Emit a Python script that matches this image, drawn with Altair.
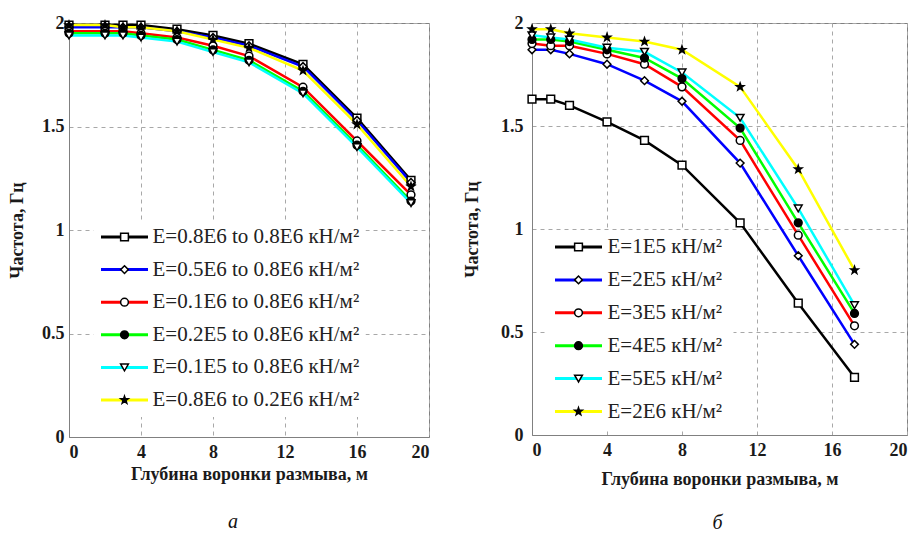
import altair as alt
import pandas as pd

# ---------------- data ----------------
depth_a = [0, 2, 3, 4, 6, 8, 10, 13, 16, 19]
labels_a = [
    "E=0.8E6 to 0.8E6 кН/м²",
    "E=0.5E6 to 0.8E6 кН/м²",
    "E=0.1E6 to 0.8E6 кН/м²",
    "E=0.2E5 to 0.8E6 кН/м²",
    "E=0.1E5 to 0.8E6 кН/м²",
    "E=0.8E6 to 0.2E6 кН/м²",
]
freq_a_black = [1.99, 1.99, 1.99, 1.99, 1.97, 1.94, 1.90, 1.80, 1.54, 1.24]
freq_a_blue = [1.98, 1.98, 1.98, 1.98, 1.96, 1.93, 1.89, 1.79, 1.53, 1.23]
freq_a_red = [1.96, 1.96, 1.96, 1.95, 1.93, 1.89, 1.84, 1.69, 1.43, 1.17]
freq_a_green = [1.95, 1.95, 1.95, 1.94, 1.92, 1.87, 1.82, 1.67, 1.41, 1.14]
freq_a_cyan = [1.94, 1.94, 1.94, 1.93, 1.91, 1.86, 1.81, 1.66, 1.40, 1.13]
freq_a_yellow = [1.99, 1.99, 1.98, 1.98, 1.96, 1.92, 1.88, 1.77, 1.51, 1.21]

depth_b = [0, 1, 2, 4, 6, 8, 11.1, 14.2, 17.2]
labels_b = [
    "E=1E5  кН/м²",
    "E=2E5  кН/м²",
    "E=3E5  кН/м²",
    "E=4E5  кН/м²",
    "E=5E5  кН/м²",
    "E=2E6  кН/м²",
]
freq_b_black = [1.63, 1.63, 1.60, 1.52, 1.43, 1.31, 1.03, 0.64, 0.28]
freq_b_blue = [1.87, 1.87, 1.85, 1.80, 1.72, 1.62, 1.32, 0.87, 0.44]
freq_b_red = [1.90, 1.89, 1.89, 1.85, 1.80, 1.69, 1.43, 0.97, 0.53]
freq_b_green = [1.92, 1.92, 1.91, 1.87, 1.83, 1.73, 1.49, 1.03, 0.59]
freq_b_cyan = [1.94, 1.93, 1.92, 1.88, 1.86, 1.76, 1.54, 1.10, 0.63]
freq_b_yellow = [1.97, 1.97, 1.95, 1.93, 1.91, 1.87, 1.69, 1.29, 0.80]

x_ticks = [0, 4, 8, 12, 16, 20]
y_ticks = [0, 0.5, 1, 1.5, 2]
x_title = "Глубина воронки размыва, м"
y_title = "Частота, Гц"
sub_a = "а"
sub_b = "б"

# ---------------- styles ----------------
line_colors = ["#000000", "#0000ff", "#ff0000", "#00ff00", "#00ffff", "#ffff00"]
star = ("M0,-1L0.235,-0.324L0.951,-0.309L0.38,0.124L0.588,0.809L0,0.4"
        "L-0.588,0.809L-0.38,0.124L-0.951,-0.309L-0.235,-0.324Z")
marker_shapes = ["square", "diamond", "circle", "circle", "triangle-down", star]
marker_fills = ["white", "white", "white", "black", "white", "black"]
marker_strokes = ["black"] * 6
codes = ["m0", "m1", "m2", "m3", "m4", "m5"]
SERIF = "Liberation Serif"
LEG_FONT = 21
MARK_SIZE = 60


def frame(xs, series, labels):
    rows = []
    for lab, code, ys in zip(labels, codes, series):
        for x, y in zip(xs, ys):
            rows.append({"x": x, "y": y, "s": lab, "m": code})
    return pd.DataFrame(rows)


def panel(df, labels, w, h, y_lp, y_tp, x_tp, leg, sub, sub_dx, sub_off):
    lx, mx, ly, rp, lo = leg
    xenc = alt.X("x:Q", scale=alt.Scale(domain=[0, 20], nice=False),
                 axis=alt.Axis(values=x_ticks, title=x_title, format="~g",
                               labelPadding=6, titlePadding=x_tp))
    yenc = alt.Y("y:Q", scale=alt.Scale(domain=[0, 2], nice=False),
                 axis=alt.Axis(values=y_ticks, title=y_title, format="~g",
                               labelPadding=y_lp, titlePadding=y_tp))
    line_legend = alt.Legend(
        title=None, orient="none", legendX=lx, legendY=ly, direction="vertical",
        columns=1, symbolType="stroke", symbolSize=2209, symbolStrokeWidth=3,
        clipHeight=22, rowPadding=rp, padding=6, fillColor="white",
        labelFont=SERIF, labelFontSize=LEG_FONT, labelOffset=lo, labelLimit=500,
        labelColor="#222222")
    mark_legend = alt.Legend(
        title=None, orient="none", legendX=mx, legendY=ly, direction="vertical",
        columns=1, symbolSize=MARK_SIZE, symbolStrokeColor="black",
        symbolStrokeWidth=1.5, clipHeight=22, rowPadding=rp, padding=6,
        labelFont=SERIF, labelFontSize=LEG_FONT, labelExpr="''", labelLimit=500)
    lines = alt.Chart(df).mark_line(strokeWidth=2.5).encode(
        x=xenc, y=yenc,
        color=alt.Color("s:N", scale=alt.Scale(domain=labels, range=line_colors),
                        legend=line_legend),
    )
    points = alt.Chart(df).mark_point(size=MARK_SIZE, strokeWidth=1.5,
                                      opacity=1).encode(
        x=xenc, y=yenc,
        shape=alt.Shape("m:N", scale=alt.Scale(domain=codes, range=marker_shapes),
                        legend=mark_legend),
        fill=alt.Fill("m:N", scale=alt.Scale(domain=codes, range=marker_fills),
                      legend=mark_legend),
        stroke=alt.Stroke("m:N", scale=alt.Scale(domain=codes, range=marker_strokes),
                          legend=mark_legend),
    )
    return alt.layer(lines, points).properties(
        width=w, height=h,
        title=alt.TitleParams(sub, orient="bottom", anchor="middle", frame="group",
                              dx=sub_dx, offset=sub_off),
    )


df_a = frame(depth_a, [freq_a_black, freq_a_blue, freq_a_red, freq_a_green,
                       freq_a_cyan, freq_a_yellow], labels_a)
df_b = frame(depth_b, [freq_b_black, freq_b_blue, freq_b_red, freq_b_green,
                       freq_b_cyan, freq_b_yellow], labels_b)

left = panel(df_a, labels_a, 360, 414, 5, 15, 4,
             (24.5, 39, 197, 10.6, 3), sub_a, -16, 29)
right = panel(df_b, labels_b, 375, 412, 9, 19, 11,
              (15.5, 30, 207, 10.9, 4), sub_b, -2, 25)

chart = alt.hconcat(left, right, spacing=33).resolve_scale(
    color="independent", shape="independent", fill="independent",
    stroke="independent", x="independent", y="independent",
).resolve_legend(color="independent", shape="independent", fill="independent",
                 stroke="independent"
).configure_axis(
    labelFont=SERIF, labelFontSize=18, labelFontWeight="bold", labelColor="#1a1a1a",
    titleFont=SERIF, titleFontSize=18, titleFontWeight="bold", titleColor="#1a1a1a",
    gridColor="#a8a8a8", gridDash=[4, 4], gridWidth=1,
    domainColor="#808080", ticks=False,
).configure_legend(labelFont=SERIF
).configure_view(stroke="#808080", strokeWidth=1
).configure_title(font=SERIF, fontSize=20, fontStyle="italic", fontWeight="normal",
                  color="#111111"
).properties(background="white",
             padding={"left": 0, "top": 5, "right": 0, "bottom": 0})

chart.save("out.html", embed_options={"renderer": "svg", "actions": False})
